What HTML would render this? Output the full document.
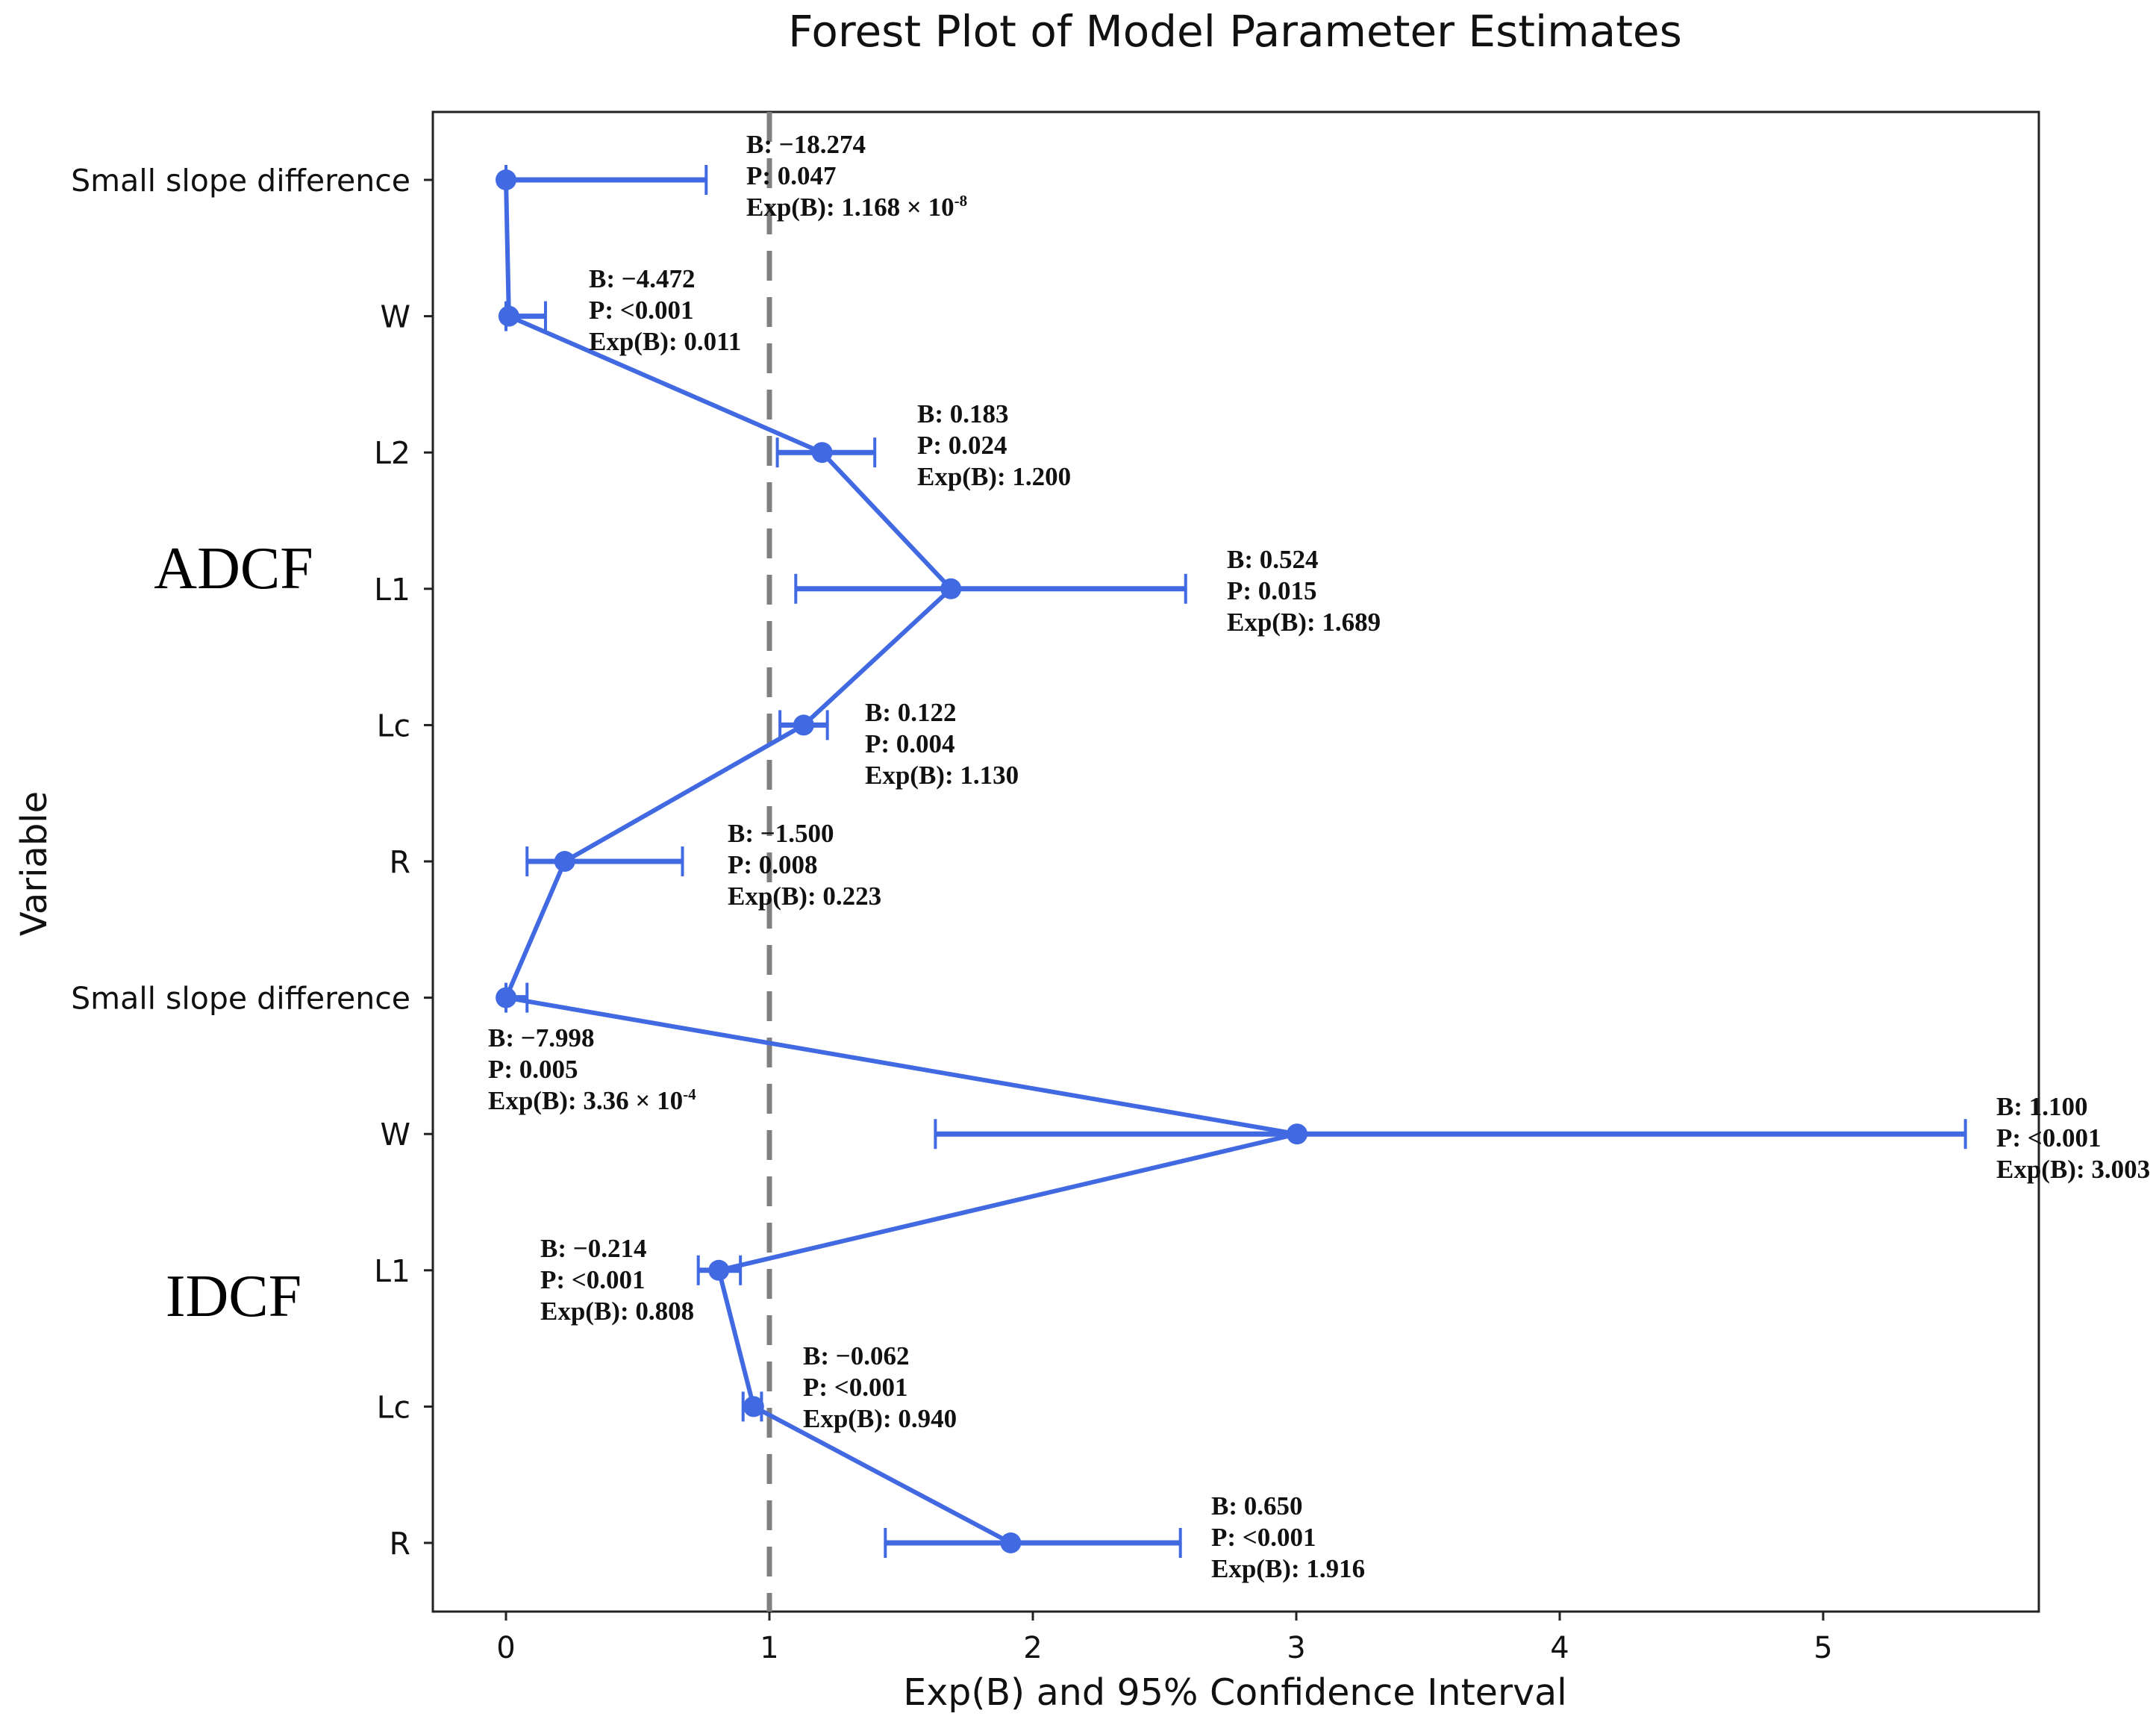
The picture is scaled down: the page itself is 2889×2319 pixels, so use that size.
<!DOCTYPE html>
<html><head><meta charset="utf-8"><style>
html,body{margin:0;padding:0;background:#fff}
svg{display:block}
</style></head><body>
<svg id="chart" width="2889" height="2319" viewBox="0 0 2889 2319" xmlns="http://www.w3.org/2000/svg">
<text x="1655" y="62" text-anchor="middle" font-family="DejaVu Sans, sans-serif" font-size="58" fill="#111">Forest Plot of Model Parameter Estimates</text>
<g id="plot"></g>
<text x="1655" y="2284" text-anchor="middle" font-family="DejaVu Sans, sans-serif" font-size="49" fill="#111">Exp(B) and 95% Confidence Interval</text>
<text transform="translate(62,1157) rotate(-90)" text-anchor="middle" font-family="DejaVu Sans, sans-serif" font-size="48" fill="#111">Variable</text>
<text x="313" y="788" text-anchor="middle" font-family="Liberation Serif, serif" font-size="80" fill="#000">ADCF</text>
<text x="313" y="1763" text-anchor="middle" font-family="Liberation Serif, serif" font-size="80" fill="#000">IDCF</text>
</svg>
<script>
const categories = ["Small slope difference","W","L2","L1","Lc","R","Small slope difference","W","L1","Lc","R"];
const expB = [0.0000000117,0.011,1.200,1.689,1.130,0.223,0.000336,3.003,0.808,0.940,1.916];
const ciLow = [0.0,0.0,1.03,1.10,1.04,0.08,0.0,1.63,0.73,0.90,1.44];
const ciHigh = [0.76,0.15,1.40,2.58,1.22,0.67,0.08,5.54,0.89,0.97,2.56];
const bLabels = ["\u221218.274","\u22124.472","0.183","0.524","0.122","\u22121.500","\u22127.998","1.100","\u22120.214","\u22120.062","0.650"];
const pLabels = ["0.047","<0.001","0.024","0.015","0.004","0.008","0.005","<0.001","<0.001","<0.001","<0.001"];
const expLabels = [["1.168 \u00d7 10","-8"],["0.011",""],["1.200",""],["1.689",""],["1.130",""],["0.223",""],["3.36 \u00d7 10","-4"],["3.003",""],["0.808",""],["0.940",""],["1.916",""]];
const xTicks = [0,1,2,3,4,5];

// layout
const L=580,R=2732,T=150,B=2159;
const x0=678, xUnit=353;
const xs=v=>x0+v*xUnit;
const ys=i=>241+i*182.6;
const labelAnchors=[[1000,205],[789,385],[1229,566],[1644,761],[1159,966],[975,1128],[654,1402],[2675,1494],[724,1684],[1076,1828],[1623,2029]];
const NS="http://www.w3.org/2000/svg";
const g=document.getElementById('plot');
function mk(tag,attrs,parent){const e=document.createElementNS(NS,tag);for(const k in attrs)e.setAttribute(k,attrs[k]);(parent||g).appendChild(e);return e;}
const blue="#4169E1";

let fr=mk('rect',{x:L,y:T,width:R-L,height:B-T,fill:'none',stroke:'#222','stroke-width':3});



let ref=mk('line',{x1:xs(1),x2:xs(1),y1:T,y2:B,stroke:'#808080','stroke-width':7,'stroke-dasharray':'40 22'});



xTicks.forEach(t=>{
  const tk=mk('line',{x1:xs(t),x2:xs(t),y1:B,y2:B+12,stroke:'#222','stroke-width':3});
  
  
  const tl=mk('text',{x:xs(t),y:B+62,'text-anchor':'middle','font-family':'DejaVu Sans, sans-serif','font-size':40,fill:'#111'});
  tl.textContent=t;
  
  
});

categories.forEach((c,i)=>{
  const tk=mk('line',{x1:L-12,x2:L,y1:ys(i),y2:ys(i),stroke:'#222','stroke-width':3});
  
  
  const tl=mk('text',{x:L-30,y:ys(i)+15,'text-anchor':'end','font-family':'DejaVu Sans, sans-serif','font-size':41,fill:'#111'});
  tl.textContent=c;
  
  
});

const pts=expB.map((v,i)=>xs(v)+','+ys(i)).join(' ');
let pl=mk('polyline',{points:pts,fill:'none',stroke:blue,'stroke-width':6});



expB.forEach((v,i)=>{
  const y=ys(i);
  const eb=mk('line',{x1:xs(ciLow[i]),x2:xs(ciHigh[i]),y1:y,y2:y,stroke:blue,'stroke-width':7});
  
  
  [ciLow[i],ciHigh[i]].forEach(c=>{
    const cap=mk('line',{x1:xs(c),x2:xs(c),y1:y-20,y2:y+20,stroke:blue,'stroke-width':4});
    
    
  });
  const pt=mk('circle',{cx:xs(v),cy:y,r:14,fill:blue});
  
  
  const [ax,ay]=labelAnchors[i];
  const tg=mk('text',{x:ax,y:ay,'font-family':'Liberation Serif, serif','font-size':35,'font-weight':'bold',fill:'#111'});
  
  
  const l1=mk('tspan',{x:ax,y:ay},tg); l1.textContent='B: '+bLabels[i];
  const l2=mk('tspan',{x:ax,y:ay+42},tg); l2.textContent='P: '+pLabels[i];
  const l3=mk('tspan',{x:ax,y:ay+84},tg); l3.textContent='Exp(B): '+expLabels[i][0];
  if(expLabels[i][1]){const s=mk('tspan',{dy:-13,'font-size':21},tg); s.textContent=expLabels[i][1];}
});
</script>
</body></html>
